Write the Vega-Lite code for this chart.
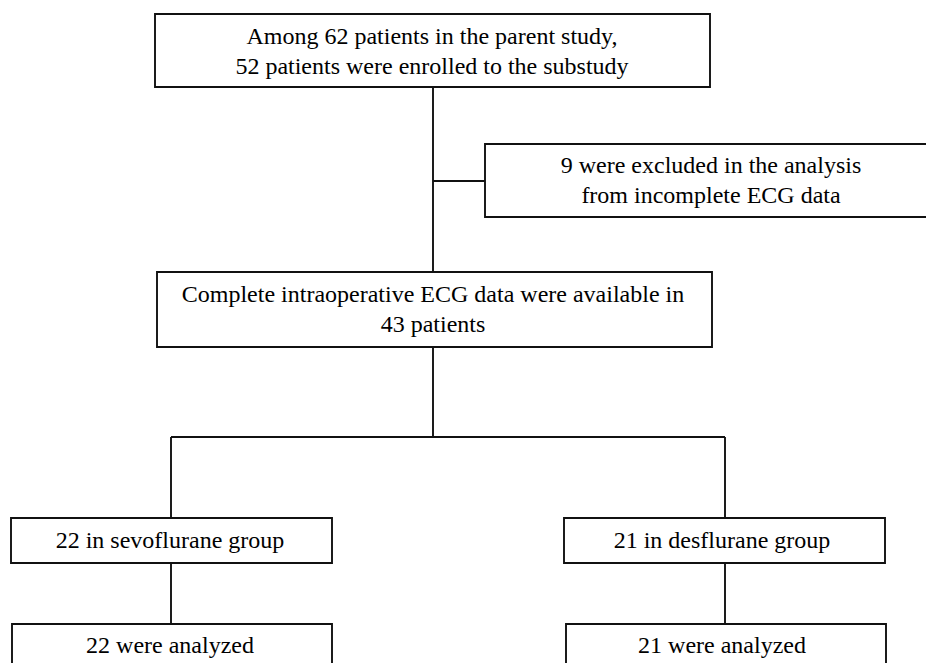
{
  "$schema": "https://vega.github.io/schema/vega-lite/v6.json",
  "width": 926,
  "height": 663,
  "padding": 0,
  "autosize": {"type": "fit", "contains": "padding"},
  "background": "white",
  "config": {"view": {"stroke": null}},
  "datasets": {
    "boxes": [
      {"x1": 155, "x2": 710, "y1": 14, "y2": 87},
      {"x1": 485, "x2": 940, "y1": 144, "y2": 217},
      {"x1": 157, "x2": 712, "y1": 272, "y2": 347},
      {"x1": 11, "x2": 332, "y1": 518, "y2": 563},
      {"x1": 564, "x2": 885, "y1": 518, "y2": 563},
      {"x1": 12, "x2": 332, "y1": 624, "y2": 690},
      {"x1": 566, "x2": 886, "y1": 624, "y2": 690}
    ],
    "links": [
      {"x1": 433, "x2": 433, "y1": 87, "y2": 272},
      {"x1": 433, "x2": 485, "y1": 181, "y2": 181},
      {"x1": 433, "x2": 433, "y1": 347, "y2": 437},
      {"x1": 171, "x2": 725, "y1": 437, "y2": 437},
      {"x1": 171, "x2": 171, "y1": 437, "y2": 518},
      {"x1": 725, "x2": 725, "y1": 437, "y2": 518},
      {"x1": 171, "x2": 171, "y1": 563, "y2": 624},
      {"x1": 725, "x2": 725, "y1": 563, "y2": 624}
    ],
    "labels": [
      {"x": 432, "y": 44, "t": "Among 62 patients in the parent study,"},
      {"x": 432, "y": 74, "t": "52 patients were enrolled to the substudy"},
      {"x": 711, "y": 173, "t": "9 were excluded in the analysis"},
      {"x": 711, "y": 203, "t": "from incomplete ECG data"},
      {"x": 433, "y": 302, "t": "Complete intraoperative ECG data were available in"},
      {"x": 433, "y": 332, "t": "43 patients"},
      {"x": 170, "y": 548, "t": "22 in sevoflurane group"},
      {"x": 722, "y": 548, "t": "21 in desflurane group"},
      {"x": 170, "y": 653, "t": "22 were analyzed"},
      {"x": 722, "y": 653, "t": "21 were analyzed"}
    ]
  },
  "layer": [
    {
      "data": {"name": "boxes"},
      "mark": {"type": "rect", "fill": "white", "stroke": "#111111", "strokeWidth": 1.9, "clip": true},
      "encoding": {
        "x": {"field": "x1", "type": "quantitative", "scale": {"domain": [0, 926], "nice": false, "zero": false}, "axis": null},
        "x2": {"field": "x2"},
        "y": {"field": "y1", "type": "quantitative", "scale": {"domain": [0, 663], "nice": false, "zero": false, "reverse": true}, "axis": null},
        "y2": {"field": "y2"}
      }
    },
    {
      "data": {"name": "links"},
      "mark": {"type": "rule", "stroke": "#111111", "strokeWidth": 1.9},
      "encoding": {
        "x": {"field": "x1", "type": "quantitative"},
        "x2": {"field": "x2"},
        "y": {"field": "y1", "type": "quantitative"},
        "y2": {"field": "y2"}
      }
    },
    {
      "data": {"name": "labels"},
      "mark": {"type": "text", "font": "Liberation Serif", "fontSize": 24, "color": "#000000", "align": "center", "baseline": "alphabetic"},
      "encoding": {
        "x": {"field": "x", "type": "quantitative"},
        "y": {"field": "y", "type": "quantitative"},
        "text": {"field": "t"}
      }
    }
  ]
}
